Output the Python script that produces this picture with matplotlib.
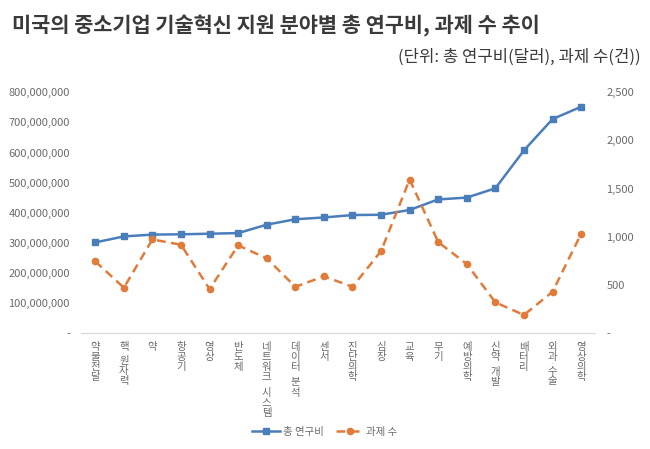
import matplotlib
matplotlib.use("Agg")
import matplotlib.pyplot as plt
from matplotlib.ticker import FuncFormatter

plt.rcParams['font.family'] = ['Noto Sans CJK KR', 'DejaVu Sans']

categories = ["약물전달", "핵·원자력", "약", "항공기", "영상", "반도체", "네트워크 시스템",
              "데이터 분석", "센서", "진단의학", "심장", "교육", "무기", "예방의학",
              "신약 개발", "배터리", "외과·수술", "영상의학"]
funding = [301e6, 321e6, 327e6, 328e6, 330e6, 332e6, 360e6, 378e6, 384e6,
           392e6, 393e6, 409e6, 444e6, 450e6, 481e6, 607e6, 711e6, 752e6]
projects = [744, 470, 972, 916, 456, 910, 775, 480, 588,
            480, 850, 1594, 944, 716, 318, 187, 428, 1030]

blue = "#4a7ebb"
orange = "#e07b39"
tick_color = "#6b6b6b"

fig = plt.figure(figsize=(6.5, 4.49), dpi=100)
ax = fig.add_axes([0.1246, 0.2584, 0.7914, 0.536])
ax2 = ax.twinx()

x = list(range(len(categories)))
l1, = ax.plot(x, funding, color=blue, lw=1.8, marker="s", ms=4.5, label="총 연구비", zorder=3)
l2, = ax2.plot(x, projects, color=orange, lw=1.8, ls=(0, (3.5, 2.2)), marker="o", ms=4.5,
               label="과제 수", zorder=3)

ax.set_xlim(-0.5, len(categories) - 0.5)
ax.set_ylim(0, 800e6)
ax2.set_ylim(0, 2500)
ax.set_yticks([i * 100e6 for i in range(9)])
ax2.set_yticks([i * 500 for i in range(6)])


def fmt_num(v, pos):
    # excel accounting style: zero shown as a dash
    return "-" if v == 0 else f"{int(v):,}"


ax.yaxis.set_major_formatter(FuncFormatter(fmt_num))
ax2.yaxis.set_major_formatter(FuncFormatter(fmt_num))

for a in (ax, ax2):
    for s in ("top", "left", "right"):
        a.spines[s].set_visible(False)
    a.spines["bottom"].set_color("#d9d9d9")
    a.tick_params(axis="y", length=0, labelsize=8, labelcolor=tick_color, pad=8)
ax.tick_params(axis="x", length=0, labelbottom=False)

# vertical (stacked) category labels, one character per line
step = 7.3
trans = ax.get_xaxis_transform()
for i, label in enumerate(categories):
    off = 6.5
    for ch in label:
        if ch == " ":
            off += step * 0.5
            continue
        if ch == "·":
            ax.annotate(ch, xy=(i, 0), xycoords=trans, xytext=(0, -off - step * 0.15),
                        textcoords="offset points", ha="center", va="center",
                        fontsize=4, color=tick_color)
            off += step * 0.35
            continue
        ax.annotate(ch, xy=(i, 0), xycoords=trans, xytext=(0, -off),
                    textcoords="offset points", ha="center", va="top",
                    fontsize=7.5, color=tick_color)
        off += step

fig.text(0.018, 0.942, "미국의 중소기업 기술혁신 지원 분야별 총 연구비, 과제 수 추이",
         fontsize=15, fontweight="bold", color="#3a3a3a", ha="left", va="center")
fig.text(0.985, 0.873, "(단위: 총 연구비(달러), 과제 수(건))",
         fontsize=12, color="#3a3a3a", ha="right", va="center")

fig.legend(handles=[l1, l2], loc="center", bbox_to_anchor=(0.5, 0.038), ncol=2,
           frameon=False, fontsize=7.5, labelcolor=tick_color, handlelength=2.6,
           handletextpad=0.3, columnspacing=1.2)

fig.savefig("out.png", dpi=100, facecolor="white")
